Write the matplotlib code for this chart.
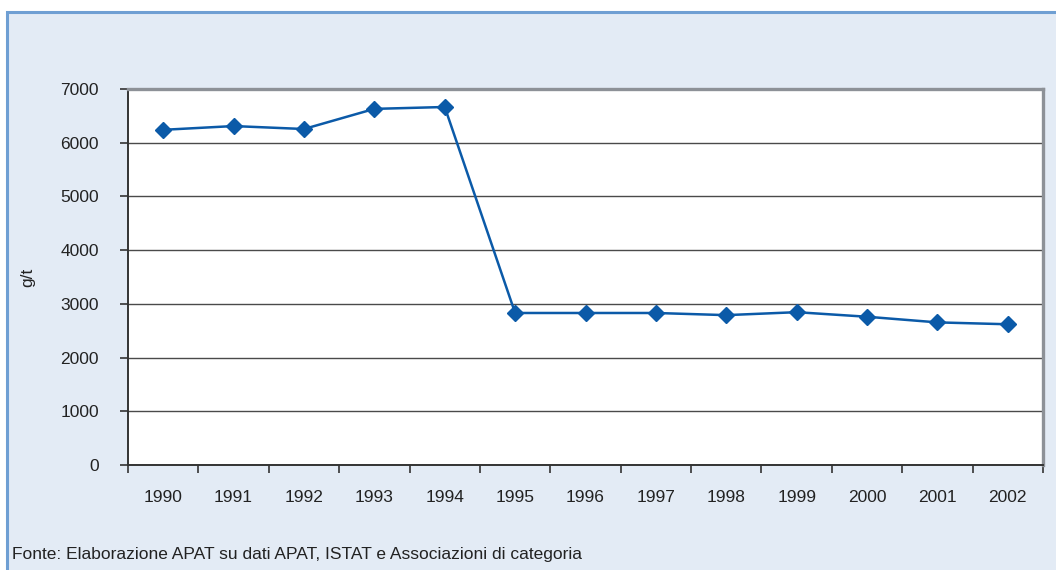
import matplotlib

matplotlib.use("Agg")

import matplotlib.pyplot as plt
from matplotlib.patches import Rectangle

years = ["1990", "1991", "1992", "1993", "1994", "1995", "1996",
         "1997", "1998", "1999", "2000", "2001", "2002"]
values = [6240, 6310, 6255, 6630, 6665, 2830, 2830,
          2830, 2790, 2845, 2760, 2655, 2620]
y_ticks = [0, 1000, 2000, 3000, 4000, 5000, 6000, 7000]
y_label = "g/t"
source = "Fonte: Elaborazione APAT su dati APAT, ISTAT e Associazioni di categoria"

plt.rcParams["font.family"] = ["Liberation Sans Narrow", "Liberation Sans", "DejaVu Sans"]

BG = "#e3ebf5"
FRAME = "#6f9fd3"
LINE = "#0b5aa8"
TEXT = "#222222"
FS = 12.5

fig = plt.figure(figsize=(10.56, 5.70), dpi=100)
fig.patch.set_facecolor("white")

# outer panel box (runs off the right and bottom edges)
fig.patches.append(Rectangle((6.5 / 1056, -0.05), 1.2, 1 - 11.5 / 570 + 0.05,
                             transform=fig.transFigure, facecolor=BG,
                             edgecolor=FRAME, linewidth=2.2, zorder=-1))

ax = fig.add_axes([128 / 1056, 1 - 465 / 570, (1043 - 128) / 1056, (465 - 89) / 570])
ax.set_facecolor("white")

x = list(range(len(years)))
ax.plot(x, values, color=LINE, linewidth=1.8, marker="D", markersize=8,
        markerfacecolor=LINE, markeredgecolor=LINE, zorder=3)

ax.set_xlim(-0.5, len(years) - 0.5)
ax.set_ylim(0, 7000)
ax.set_yticks(y_ticks)
ax.set_yticklabels([str(v) for v in y_ticks])
ax.yaxis.grid(True, color="#4a4a4a", linewidth=1.0)
ax.set_axisbelow(True)

# category labels centred, tick marks on category boundaries
ax.set_xticks(x)
ax.set_xticklabels(years)
ax.set_xticks([i - 0.5 for i in range(len(years) + 1)], minor=True)
ax.tick_params(axis="x", which="major", length=0, pad=18, labelsize=FS, colors=TEXT)
ax.tick_params(axis="x", which="minor", length=6, width=1.2, color="#333333")
ax.tick_params(axis="y", length=6, width=1.2, color="#333333", pad=15,
               labelsize=FS, labelcolor=TEXT)

for side in ("left", "bottom"):
    ax.spines[side].set_color("#333333")
    ax.spines[side].set_linewidth(1.4)
for side in ("top", "right"):
    ax.spines[side].set_color("#8d9197")
    ax.spines[side].set_linewidth(2.4)

ax.set_ylabel(y_label, fontsize=FS, color=TEXT)
ax.yaxis.set_label_coords((35 - 128) / 915, 0.5)

fig.text(12 / 1056, 1 - 555 / 570, source, fontsize=FS, color=TEXT,
         ha="left", va="center")

fig.savefig("out.png", dpi=100, facecolor=fig.get_facecolor())
